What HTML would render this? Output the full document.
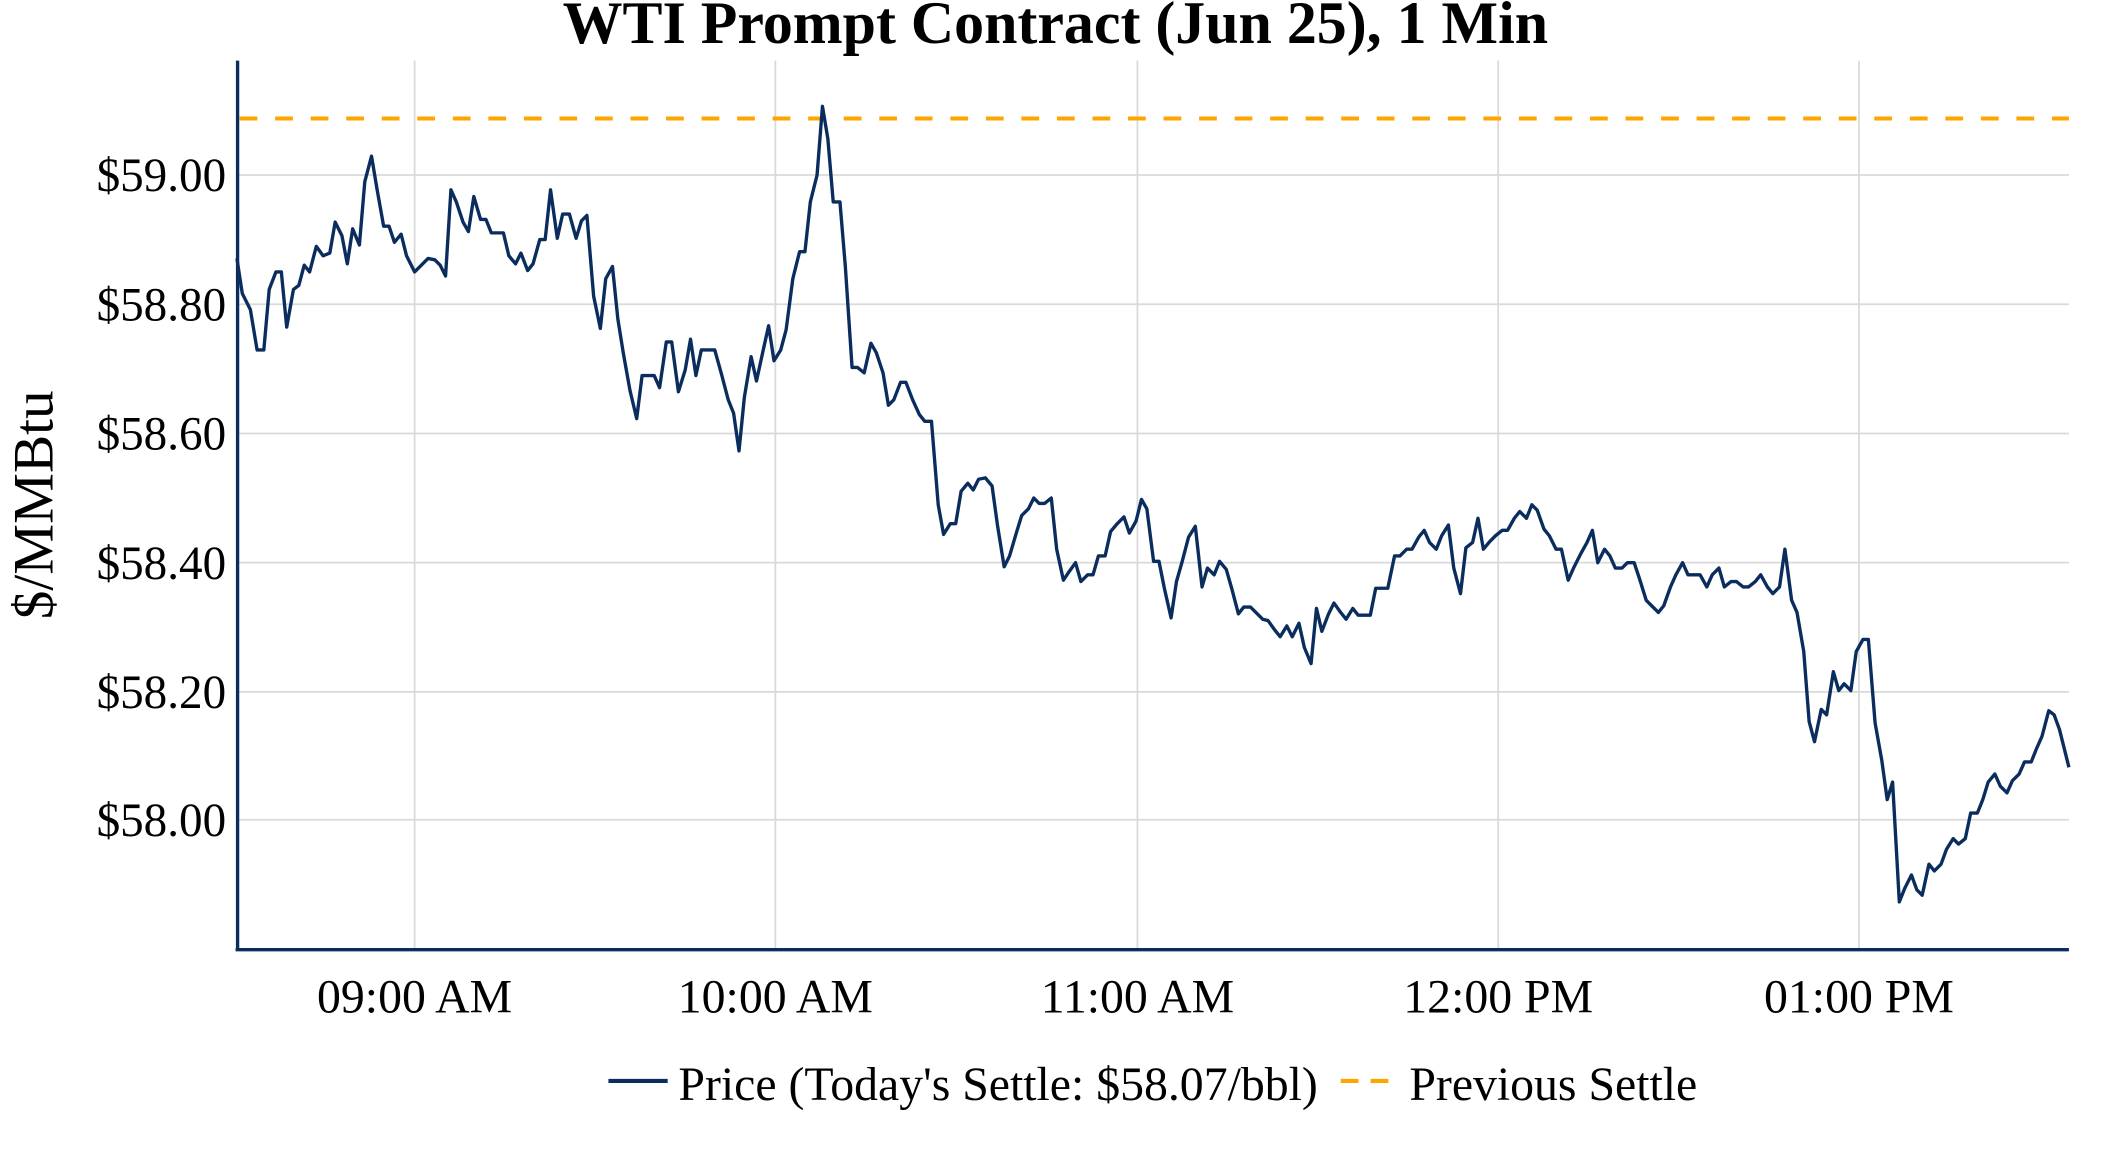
<!DOCTYPE html>
<html><head><meta charset="utf-8"><style>
html,body{margin:0;padding:0;background:#fff;width:2112px;height:1152px;overflow:hidden;}
svg{display:block;}
text{font-family:"Liberation Serif",serif;fill:#000;}
</style></head><body>
<svg width="2112" height="1152" viewBox="0 0 1569 855.8" preserveAspectRatio="none" xmlns="http://www.w3.org/2000/svg">
<rect width="1569" height="855.8" fill="#fff"/>
<g stroke="#d9d9d9" stroke-width="1.3">
<line x1="176" y1="130" x2="1537" y2="130"/>
<line x1="176" y1="226" x2="1537" y2="226"/>
<line x1="176" y1="322" x2="1537" y2="322"/>
<line x1="176" y1="418" x2="1537" y2="418"/>
<line x1="176" y1="514" x2="1537" y2="514"/>
<line x1="176" y1="609" x2="1537" y2="609"/>
<line x1="308" y1="45" x2="308" y2="705"/>
<line x1="576" y1="45" x2="576" y2="705"/>
<line x1="845" y1="45" x2="845" y2="705"/>
<line x1="1113" y1="45" x2="1113" y2="705"/>
<line x1="1381" y1="45" x2="1381" y2="705"/>
</g>
<line x1="178" y1="88" x2="1537" y2="88" stroke="#ffa500" stroke-width="3" stroke-dasharray="13.2 13.2"/>
<polyline fill="none" stroke="#0a2d5e" stroke-width="2.5" stroke-linejoin="round" points="176,192 180,218 186,230 191,260 196,260 200,215 205,202 209,202 213,243 218,215 222,212 226,197 230,202 235,183 240,190 245,188 249,165 254,175 258,196 262,170 267,182 271,135 276,116 280,140 285,168 289,168 293,180 298,174 302,190 308,202 313,197 318,192 323,193 327,197 331,205 335,141 339,150 344,165 348,172 352,146 357,163 361,163 365,173 370,173 374,173 378,190 383,196 387,188 392,201 396,196 401,178 405,178 409,141 414,177 418,159 423,159 428,177 432,164 436,160 441,220 446,244 450,207 455,198 459,237 463,262 468,290 473,311 477,279 482,279 486,279 490,288 495,254 499,254 504,291 509,275 513,252 517,279 521,260 526,260 531,260 536,278 541,297 545,307 549,335 553,295 558,265 562,283 567,260 571,242 575,268 580,260 584,245 589,207 594,187 598,187 602,150 607,130 611,79 615,103 619,150 624,150 628,198 633,273 637,273 642,277 647,255 651,262 656,277 660,301 664,297 669,284 673,284 678,297 683,308 687,313 692,313 697,375 701,397 706,389 710,389 714,365 719,359 723,364 727,356 732,355 737,361 741,390 746,421 750,413 755,396 759,383 764,378 768,370 772,374 776,374 781,370 785,408 790,431 794,425 799,418 803,432 808,427 812,427 816,413 821,413 825,395 830,389 835,384 839,396 844,387 848,371 852,378 857,417 861,417 865,437 870,459 874,432 878,418 883,399 888,391 893,436 897,422 902,427 906,417 911,423 915,437 920,456 924,451 929,451 933,455 938,460 942,461 947,468 951,473 956,465 960,473 965,463 969,481 974,493 978,452 982,469 987,456 991,448 996,455 1000,460 1005,452 1009,457 1014,457 1018,457 1022,437 1027,437 1031,437 1036,413 1040,413 1045,408 1049,408 1054,399 1058,394 1062,403 1067,408 1071,398 1076,390 1080,422 1085,441 1089,407 1094,403 1098,385 1102,408 1107,402 1111,398 1116,394 1120,394 1125,385 1129,380 1134,385 1138,375 1142,379 1147,393 1151,398 1156,408 1160,408 1165,431 1169,422 1174,412 1179,403 1183,394 1187,418 1192,408 1196,413 1200,422 1205,422 1209,418 1214,418 1218,430 1223,446 1227,450 1232,455 1236,450 1241,436 1245,427 1250,418 1254,427 1259,427 1263,427 1268,436 1272,427 1277,422 1281,436 1286,432 1290,432 1295,436 1299,436 1304,432 1308,427 1313,436 1317,441 1322,436 1326,408 1331,446 1335,455 1340,484 1344,536 1348,551 1353,527 1357,531 1362,499 1366,513 1370,508 1375,513 1379,484 1384,475 1388,475 1393,537 1398,565 1402,594 1406,581 1411,670 1415,660 1420,650 1424,661 1428,665 1433,642 1437,647 1442,642 1446,631 1451,623 1455,627 1460,623 1464,604 1469,604 1473,594 1477,581 1482,575 1486,584 1491,589 1495,580 1500,575 1504,566 1509,566 1513,556 1517,547 1522,528 1526,531 1530,542 1537,570"/>
<line x1="176.5" y1="45" x2="176.5" y2="706" stroke="#0a2d5e" stroke-width="2.5"/>
<line x1="175" y1="705.5" x2="1537" y2="705.5" stroke="#0a2d5e" stroke-width="2.5"/>
<text x="784" y="32" text-anchor="middle" font-size="44.5" font-weight="bold">WTI Prompt Contract (Jun 25), 1 Min</text>
<g font-size="35" text-anchor="end">
<text x="168" y="142">$59.00</text>
<text x="168" y="238">$58.80</text>
<text x="168" y="334">$58.60</text>
<text x="168" y="430">$58.40</text>
<text x="168" y="526">$58.20</text>
<text x="168" y="621">$58.00</text>
</g>
<g font-size="35.5" text-anchor="middle">
<text x="308" y="752">09:00 AM</text>
<text x="576" y="752">10:00 AM</text>
<text x="845" y="752">11:00 AM</text>
<text x="1113" y="752">12:00 PM</text>
<text x="1381" y="752">01:00 PM</text>
</g>
<text transform="translate(39,375) rotate(-90)" text-anchor="middle" font-size="42.5">$/MMBtu</text>
<line x1="452" y1="803" x2="496" y2="803" stroke="#0a2d5e" stroke-width="3"/>
<text x="504" y="817" font-size="35.5">Price (Today's Settle: $58.07/bbl)</text>
<line x1="996" y1="803" x2="1040" y2="803" stroke="#ffa500" stroke-width="3" stroke-dasharray="13.2 9"/>
<text x="1047" y="817" font-size="35.5">Previous Settle</text>
</svg>
</body></html>
